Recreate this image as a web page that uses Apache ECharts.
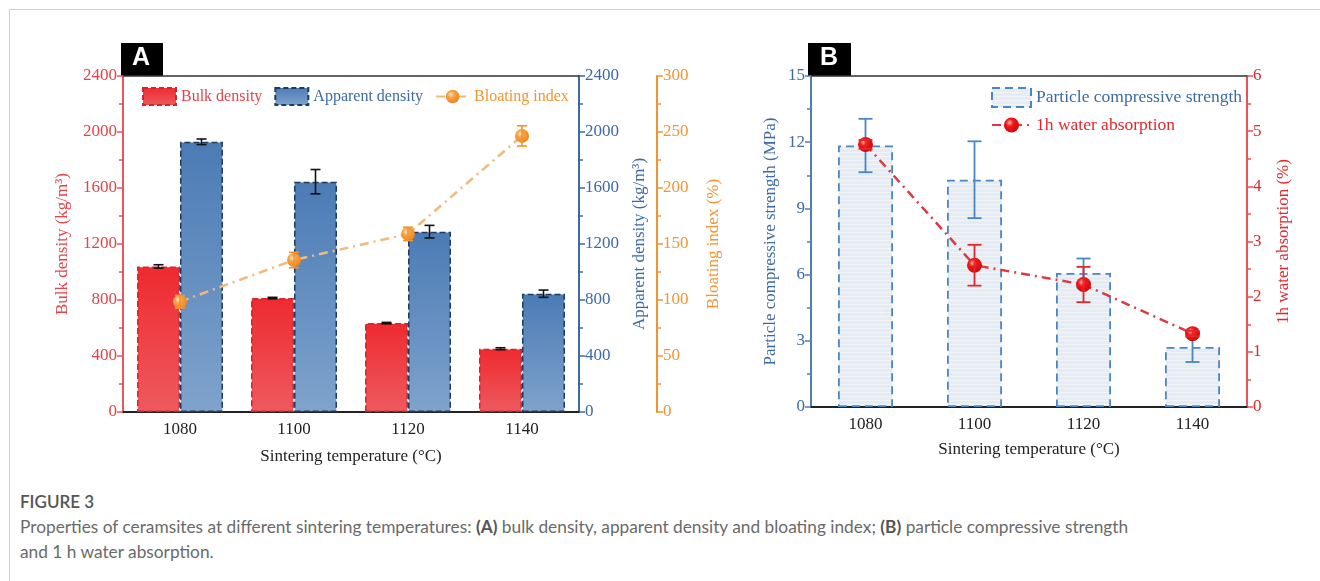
<!DOCTYPE html>
<html>
<head>
<meta charset="utf-8">
<script src="https://cdn.jsdelivr.net/npm/echarts@6/dist/echarts.min.js"></script>
<style>
  html, body { margin: 0; padding: 0; background: #fff; }
  #wrap { position: relative; width: 1320px; height: 581px; overflow: hidden; }
  #frame { position: absolute; left: 9px; top: 9px; width: 1400px; height: 700px;
           border-left: 1px solid #cfcfcf; border-top: 1px solid #cfcfcf; }
  #chart { position: absolute; left: 0; top: 0; width: 1320px; height: 470px; }
  #caption { position: absolute; left: 20px; top: 489px; font-family: Lato, "Open Sans", sans-serif;
             color: #6a6a6a; font-size: 17.3px; line-height: 25px; }
  #caption .fig { color: #555; font-size: 17px; font-weight: 600; }
  #caption b { color: #555; }
</style>
</head>
<body>
<div id="wrap">
  <div id="frame"></div>
  <div id="chart"></div>
  <div id="caption">
    <div class="fig">FIGURE 3</div>
    <div>Properties of ceramsites at different sintering temperatures: <b>(A)</b> bulk density, apparent density and bloating index; <b>(B)</b> particle compressive strength</div>
    <div>and 1 h water absorption.</div>
  </div>
</div>
<script>
// sintering temperature (°C)
const temps = ['1080', '1100', '1120', '1140'];

// panel A
const bulkDensity = [1040, 814, 635, 452];
const bulkErr = [12, 5, 5, 7];
const apparentDensity = [1930, 1645, 1288, 845];
const apparentErr = [20, 87, 45, 26];
const bloatingIndex = [98.5, 135.7, 159, 246.5];
const bloatingErr = [5.6, 6.9, 6, 9];

// panel B
const strength = [11.85, 10.3, 6.07, 2.72];
const strengthErr = [1.21, 1.74, 0.66, 0.68];
const waterAbs = [4.76, 2.57, 2.22, 1.33];
const waterErr = [0.08, 0.37, 0.32, 0.05];

const serif = '"Liberation Serif", "DejaVu Serif", serif';
const RED = '#e4434a';
const BLUE = '#3d6aa5';
const ORANGE = '#f29431';
const BLUE_B = '#4a85c4';

function errData(vals, errs) {
    return vals.map((v, i) => [i, v - errs[i], v + errs[i]]);
}

function errorRender(offset, capW, color, lw) {
    return function (params, api) {
        const lo = api.coord([api.value(0), api.value(1)]);
        const hi = api.coord([api.value(0), api.value(2)]);
        const x = lo[0] + offset;
        const st = { stroke: color, lineWidth: lw };
        return {
            type: 'group',
            children: [
                { type: 'line', shape: { x1: x, y1: lo[1], x2: x, y2: hi[1] }, style: st },
                { type: 'line', shape: { x1: x - capW / 2, y1: lo[1], x2: x + capW / 2, y2: lo[1] }, style: st },
                { type: 'line', shape: { x1: x - capW / 2, y1: hi[1], x2: x + capW / 2, y2: hi[1] }, style: st }
            ]
        };
    };
}

function sphere(light, mid, dark) {
    return {
        type: 'radial', x: 0.38, y: 0.35, r: 0.7,
        colorStops: [{ offset: 0, color: light }, { offset: 0.35, color: mid }, { offset: 1, color: dark }]
    };
}

// striped light fill for panel B bars
const stripe = document.createElement('canvas');
stripe.width = 8; stripe.height = 4;
(function () {
    const c = stripe.getContext('2d');
    c.fillStyle = '#e5ecf4'; c.fillRect(0, 0, 8, 4);
    c.fillStyle = '#f1f5f9'; c.fillRect(0, 0, 8, 1);
})();

function valueAxis(color, labelColor, opt) {
    return Object.assign({
        type: 'value',
        splitLine: { show: false },
        axisLine: { show: true, lineStyle: { color: color, width: 2 } },
        axisTick: { show: true, inside: false, length: 6, lineStyle: { color: color, width: 1.5 } },
        minorTick: { show: true, splitNumber: 2, length: 4, lineStyle: { color: color, width: 1.5 } },
        axisLabel: { color: labelColor, fontFamily: serif, fontSize: 17, margin: 6, formatter: v => String(v) },
        nameLocation: 'middle',
        nameRotate: 90,
        nameTextStyle: { color: labelColor, fontFamily: serif, fontSize: 17 }
    }, opt);
}

function catAxis(grid, opt) {
    return Object.assign({
        type: 'category',
        gridIndex: grid,
        data: temps,
        axisLine: { show: true, onZero: false, lineStyle: { color: '#222', width: 2 } },
        axisTick: { show: false },
        axisLabel: { color: '#222', fontFamily: serif, fontSize: 17, margin: 9 },
        nameLocation: 'middle',
        nameTextStyle: { color: '#222', fontFamily: serif, fontSize: 17 }
    }, opt);
}

function topAxis(grid) {
    return {
        type: 'category', gridIndex: grid, position: 'top', data: temps,
        axisLine: { show: true, onZero: false, lineStyle: { color: '#333', width: 1.5 } },
        axisTick: { show: false }, axisLabel: { show: false }
    };
}

const option = {
    animation: false,
    textStyle: { fontFamily: serif },
    grid: [
        { left: 123, top: 76, width: 456, height: 341 },
        { left: 811, top: 76, width: 436, height: 331 }
    ],
    legend: [
        {
            left: 137, top: 82, itemWidth: 33, itemHeight: 17, itemGap: 12,
            textStyle: { fontFamily: serif, fontSize: 16 },
            data: [
                { name: 'Bulk density', icon: 'rect', textStyle: { color: RED },
                  itemStyle: { borderType: [5, 3] } },
                { name: 'Apparent density', icon: 'rect', textStyle: { color: BLUE },
                  itemStyle: { borderType: [5, 3] } },
                { name: 'Bloating index', textStyle: { color: ORANGE } }
            ]
        },
        {
            left: 986, top: 82, orient: 'vertical', itemWidth: 39, itemHeight: 19, itemGap: 8,
            textStyle: { fontFamily: serif, fontSize: 17.5 },
            data: [
                { name: 'Particle compressive strength', icon: 'rect', textStyle: { color: BLUE },
                  itemStyle: { borderType: [8, 5] } },
                { name: '1h water absorption', textStyle: { color: '#e3262d' } }
            ]
        }
    ],
    xAxis: [
        catAxis(0, { name: 'Sintering temperature (°C)', nameGap: 36 }),
        topAxis(0),
        catAxis(1, { name: 'Sintering temperature (°C)', nameGap: 34 }),
        topAxis(1)
    ],
    yAxis: [
        valueAxis('#e8575d', RED, { gridIndex: 0, min: 0, max: 2400, interval: 400,
            name: 'Bulk density (kg/m³)', nameGap: 52 }),
        valueAxis(BLUE, BLUE, { gridIndex: 0, position: 'right', min: 0, max: 2400, interval: 400,
            name: 'Apparent density (kg/m³)', nameGap: 52 }),
        valueAxis(ORANGE, ORANGE, { gridIndex: 0, position: 'right', offset: 78, min: 0, max: 300, interval: 50,
            name: 'Bloating index (%)', nameGap: 48 }),
        valueAxis('#4f7fb8', BLUE, { gridIndex: 1, min: 0, max: 15, interval: 3,
            name: 'Particle compressive strength (MPa)', nameGap: 32 }),
        valueAxis('#ea5057', '#e3262d', { gridIndex: 1, position: 'right', min: 0, max: 6, interval: 1,
            name: '1h water absorption (%)', nameGap: 28 })
    ],
    graphic: [
        { type: 'rect', left: 121, top: 43, shape: { width: 42, height: 33 }, style: { fill: '#000' } },
        { type: 'text', left: 132, top: 46, style: { text: 'A', fill: '#fff', font: 'bold 25px "Liberation Sans", Arial, sans-serif' } },
        { type: 'rect', left: 808, top: 43, shape: { width: 43, height: 33 }, style: { fill: '#000' } },
        { type: 'text', left: 820, top: 46, style: { text: 'B', fill: '#fff', font: 'bold 25px "Liberation Sans", Arial, sans-serif' } }
    ],
    series: [
        {
            name: 'Bulk density', type: 'bar', xAxisIndex: 0, yAxisIndex: 0,
            barWidth: 43, barGap: '0%', data: bulkDensity,
            itemStyle: {
                color: new echarts.graphic.LinearGradient(0, 0, 0, 1, [
                    { offset: 0, color: '#ee2a30' }, { offset: 1, color: '#ed5a5f' }
                ]),
                borderColor: '#d8232a', borderType: 'dashed', borderWidth: 1.5
            }
        },
        {
            name: 'Apparent density', type: 'bar', xAxisIndex: 0, yAxisIndex: 0,
            barWidth: 43, barGap: '0%', data: apparentDensity,
            itemStyle: {
                color: new echarts.graphic.LinearGradient(0, 0, 0, 1, [
                    { offset: 0, color: '#4b7bb5' }, { offset: 1, color: '#7fa3cc' }
                ]),
                borderColor: '#1f3b5f', borderType: 'dashed', borderWidth: 1.5
            }
        },
        {
            type: 'custom', xAxisIndex: 0, yAxisIndex: 0, z: 5,
            renderItem: errorRender(-21.5, 10, '#111', 1.6), data: errData(bulkDensity, bulkErr)
        },
        {
            type: 'custom', xAxisIndex: 0, yAxisIndex: 0, z: 5,
            renderItem: errorRender(21.5, 10, '#111', 1.6), data: errData(apparentDensity, apparentErr)
        },
        {
            name: 'Bloating index', type: 'line', xAxisIndex: 0, yAxisIndex: 2, z: 6,
            data: bloatingIndex, symbol: 'circle', symbolSize: 14,
            lineStyle: { color: '#f2b97c', width: 2.5, type: [9, 5, 2, 5] },
            itemStyle: { color: sphere('#ffe6c4', '#f7a348', '#ec8418'), borderWidth: 0 }
        },
        {
            type: 'custom', xAxisIndex: 0, yAxisIndex: 2, z: 7,
            renderItem: errorRender(0, 10, ORANGE, 1.6), data: errData(bloatingIndex, bloatingErr)
        },
        {
            name: 'Particle compressive strength', type: 'bar', xAxisIndex: 2, yAxisIndex: 3,
            barWidth: 55, data: strength,
            itemStyle: {
                color: { image: stripe, repeat: 'repeat' },
                borderColor: BLUE_B, borderType: [8, 5], borderWidth: 1.8
            }
        },
        {
            type: 'custom', xAxisIndex: 2, yAxisIndex: 3, z: 5,
            renderItem: errorRender(0, 14, BLUE_B, 1.8), data: errData(strength, strengthErr)
        },
        {
            name: '1h water absorption', type: 'line', xAxisIndex: 2, yAxisIndex: 4, z: 6,
            data: waterAbs, symbol: 'circle', symbolSize: 15,
            lineStyle: { color: '#dc3a40', width: 2.5, type: [9, 5, 2, 5] },
            itemStyle: { color: sphere('#ffb0b0', '#f01818', '#c80a0a'), borderWidth: 0 }
        },
        {
            type: 'custom', xAxisIndex: 2, yAxisIndex: 4, z: 7,
            renderItem: errorRender(0, 14, '#e3262d', 1.8), data: errData(waterAbs, waterErr)
        }
    ]
};

const chart = echarts.init(document.getElementById('chart'), null, { renderer: 'canvas' });
chart.setOption(option);
</script>
</body>
</html>
